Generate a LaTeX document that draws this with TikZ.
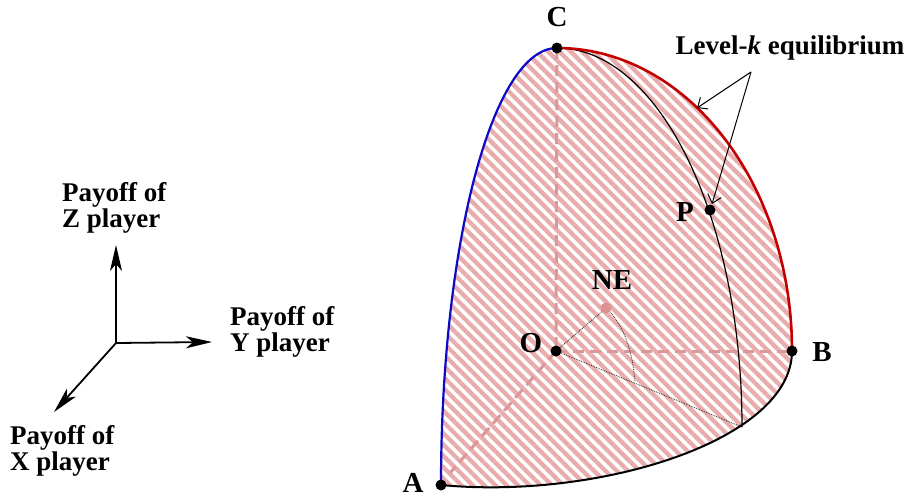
\documentclass[tikz,border=0pt]{standalone}
\usepackage{fontspec}
\setmainfont{Liberation Serif}
\usetikzlibrary{patterns.meta,arrows.meta}
\definecolor{hatchpink}{RGB}{233,172,172}
\definecolor{dashpink}{RGB}{218,152,152}
\definecolor{nepink}{RGB}{220,145,145}
\definecolor{curveblue}{RGB}{10,10,200}
\definecolor{curvered}{RGB}{195,0,0}
\begin{document}
\begin{tikzpicture}[x=1pt,y=-1pt,
  lbl/.style={font=\fontsize{29}{24}\selectfont\bfseries, inner sep=0pt},
  txt/.style={font=\fontsize{27}{23.5}\selectfont\bfseries, align=left, inner sep=0pt},
  dot/.style={circle, fill=black, inner sep=0pt, minimum size=11pt},
  nedot/.style={circle, fill=nepink, inner sep=0pt, minimum size=11pt},
  dashline/.style={dashpink, line width=3pt, dash pattern=on 11pt off 6pt},
  axis/.style={line width=1.8pt, -{Stealth[length=26pt,width=12pt,inset=7pt]}},
  pointer/.style={line width=1pt, -{Straight Barb[length=8pt,width=14pt]}},
  dotline/.style={densely dotted, line width=0.8pt, black!85}
]
\useasboundingbox (0,0) rectangle (905,499);

% key points
\coordinate (A) at (441,485);
\coordinate (B) at (792,351);
\coordinate (C) at (557,48);
\coordinate (O) at (556,351);
\coordinate (P) at (710,210);
\coordinate (NE) at (606,308);
\coordinate (Q) at (742,427);
\coordinate (Aend) at (450,473);
\coordinate (Narc) at (635,382);

% hatched region
\fill[pattern={Lines[angle=-45,distance=8pt,line width=4.3pt]}, pattern color=hatchpink]
  (A) .. controls (441,243.2) and (492.9,48) .. (C)
      .. controls (686.8,48) and (792,183.7) .. (B)
      .. controls (792,440) and (600,500) .. (A) -- cycle;

% dashed axes inside
\draw[dashline] (C) -- (O);
\draw[dashline] (O) -- (B);
\draw[dashline] (O) -- (Aend);

% dotted NE construction
\draw[dotline] (O) -- (NE);
\draw[dotline] (NE) .. controls (625,325) and (633,355) .. (Narc);
\draw[dotline] (O) -- (Q);

% boundary curves
\draw[curveblue, line width=2.2pt] (A) .. controls (441,243.2) and (492.9,48) .. (C);
\draw[black, line width=1.2pt] (C) .. controls (659.2,48) and (742,218.1) .. (Q);
\draw[curvered, line width=2.6pt] (C) .. controls (686.8,48) and (792,183.7) .. (B);
\draw[black, line width=2pt] (B) .. controls (792,440) and (600,500) .. (A);

% dots
\node[dot] (dA) at (A) {};
\node[dot] (dB) at (B) {};
\node[dot] (dC) at (C) {};
\node[dot] (dO) at (O) {};
\node[dot] (dP) at (P) {};
\node[nedot] (dNE) at (NE) {};

% point labels
\node[lbl] (lC) at (557,17) {C};
\node[lbl] (lA) at (413,483) {A};
\node[lbl] (lO) at (531,343) {O};
\node[lbl] (lB) at (822,352) {B};
\node[lbl] (lNE) at (612,280) {NE};
\node[lbl] (lP) at (685,212) {P};

% Level-k label and pointers
\node[txt] (lk) at (790,48) {Level-\textit{k} equilibrium};
\coordinate (Lk) at (751,72);
\coordinate (R1) at (697,108);
\coordinate (P1) at (712,204);
\draw[pointer] (Lk) -- (R1);
\draw[pointer] (Lk) -- (P1);

% axes legend
\coordinate (org) at (116,343);
\coordinate (zt) at (116,245);
\coordinate (yt) at (212,342);
\coordinate (xt) at (54,412);
\draw[axis] (org) -- (zt);
\draw[axis] (org) -- (yt);
\draw[axis] (org) -- (xt);
\node[txt, anchor=west] (tz) at (62,208) {Payoff of\\Z player};
\node[txt, anchor=west] (ty) at (230,332) {Payoff of\\Y player};
\node[txt, anchor=west] (tx) at (10,451) {Payoff of\\X player};
\end{tikzpicture}
\end{document}
